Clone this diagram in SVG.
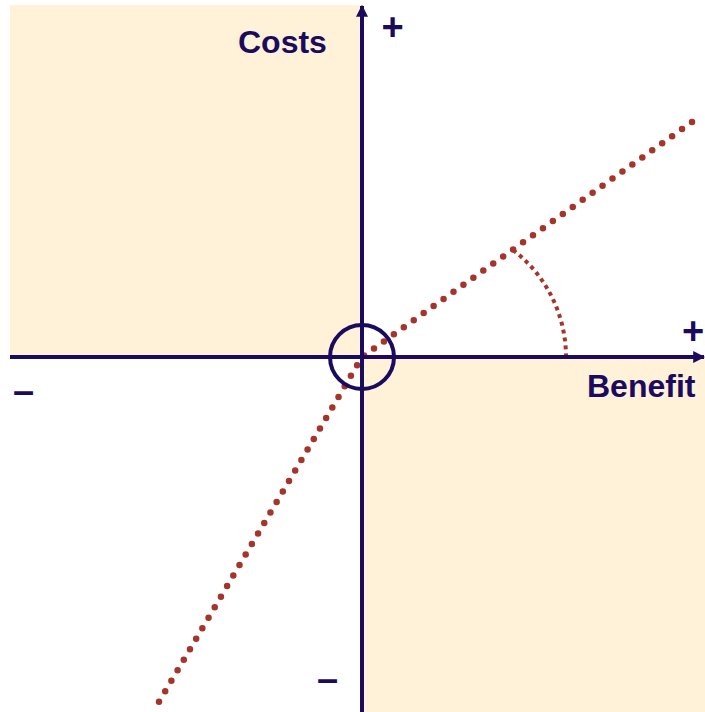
<svg xmlns="http://www.w3.org/2000/svg" width="705" height="712" viewBox="0 0 705 712">
<style>
.fill{fill:#FFF2D9}
.axis{stroke:#1B0B5E;stroke-width:4;fill:none}
.lbl{font-family:"Liberation Sans",Arial,sans-serif;font-weight:bold;fill:#1B0B5E}
.dots{stroke:#A5352A;stroke-width:6.5;stroke-linecap:round;stroke-dasharray:0 12.2;fill:none}
.arc{stroke:#A5352A;stroke-width:4;stroke-dasharray:4 4;fill:none}
</style>
<defs>
<marker id="ah" viewBox="0 0 10 10" refX="9" refY="5" markerWidth="3" markerHeight="3" orient="auto" markerUnits="strokeWidth">
<path d="M0,0 L10,5 L0,10 z" fill="#1B0B5E"/>
</marker>
</defs>
<g id="quadrants">
<rect class="fill" x="10" y="5" width="352" height="352"/>
<rect class="fill" x="362" y="357" width="343" height="355"/>
</g>
<g id="connectors">
<path class="dots" d="M692,122 L362,357 L153,712"/>
<path class="arc" d="M513,250 A134.5,134.5 0 0 1 566,357"/>
<line class="axis" x1="362" y1="712" x2="362" y2="6" marker-end="url(#ah)"/>
<line class="axis" x1="10" y1="357" x2="704" y2="357" marker-end="url(#ah)"/>
<circle class="axis" cx="362" cy="357" r="32"/>
</g>
<g id="labels">
<text class="lbl" x="238" y="53" font-size="32">Costs</text>
<text class="lbl" x="587" y="397" font-size="32">Benefit</text>
<text class="lbl" x="392.5" y="40" font-size="38" text-anchor="middle">+</text>
<text class="lbl" x="693" y="344" font-size="38" text-anchor="middle">+</text>
<text class="lbl" x="13" y="404" font-size="38">–</text>
<text class="lbl" x="317" y="692" font-size="38">–</text>
</g>
</svg>
